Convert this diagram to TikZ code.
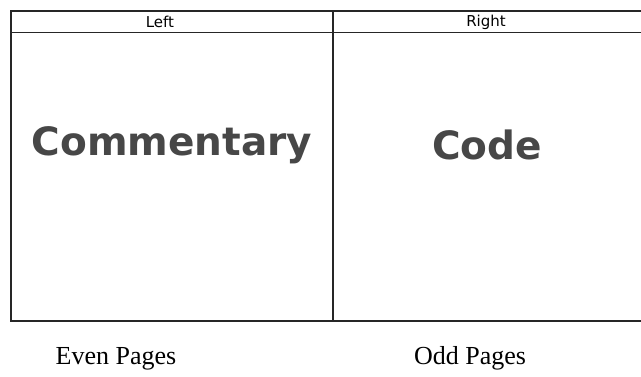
\documentclass[tikz,border=0pt]{standalone}
\usepackage{fontspec}
\setmainfont{Liberation Serif}
\newfontfamily\verd{DejaVu Sans}
\begin{document}
\begin{tikzpicture}[x=1pt,y=-1pt,
  rule/.style={draw=black!85, line width=1.3pt},
  headtxt/.style={font=\verd\fontsize{15}{17}\selectfont, inner sep=0pt},
  bigtxt/.style={font=\verd\bfseries\fontsize{39}{42}\selectfont, text=black!72, inner sep=0pt},
  captxt/.style={font=\fontsize{26}{30}\selectfont, inner sep=0pt, anchor=base}]
\useasboundingbox (0,0) rectangle (641,377);
\coordinate (tl) at (11,11);
\coordinate (tr) at (641,11);
\coordinate (hl) at (11,33);
\coordinate (hr) at (641,33);
\coordinate (bl) at (11,321);
\coordinate (br) at (641,321);
\coordinate (dt) at (333,11);
\coordinate (db) at (333,321);
\draw[rule] (tr) -- (tl) -- (bl) -- (br);
\draw[rule, line width=1pt] (hl) -- (hr);
\draw[rule] (dt) -- (db);
\node[headtxt] (left) at (160,22) {Left};
\node[headtxt] (right) at (486,22) {Right};
\node[bigtxt] (comm) at (172,145) {Commentary};
\node[bigtxt] (code) at (487,145) {Code};
\node[captxt] (even) at (116,364) {Even Pages};
\node[captxt] (odd) at (470,364) {Odd Pages};
\end{tikzpicture}
\end{document}
